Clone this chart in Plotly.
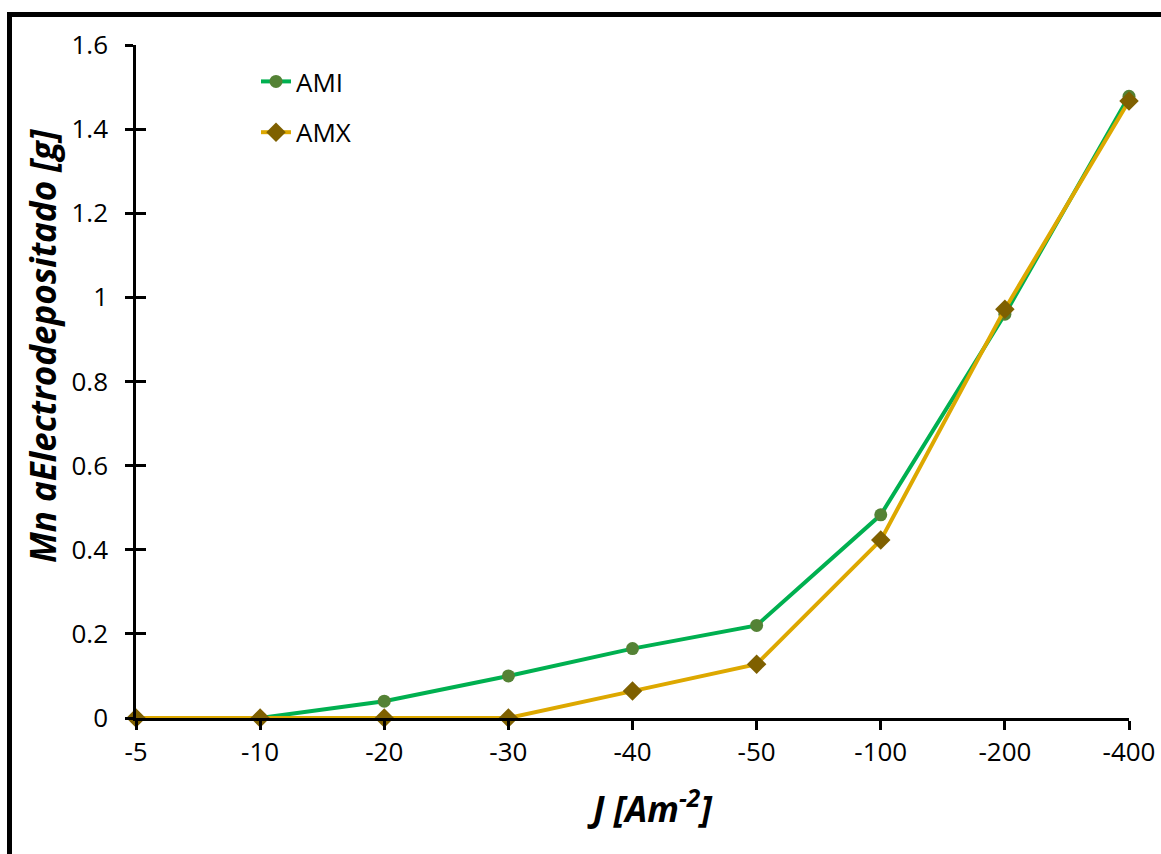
import plotly.graph_objects as go

# Current density categories (A/m^2) and deposited Mn mass (g)
current_density = ["-5", "-10", "-20", "-30", "-40", "-50", "-100", "-200", "-400"]
mass_ami = [0, 0, 0.04, 0.10, 0.165, 0.22, 0.483, 0.96, 1.478]
mass_amx = [0, 0, 0, 0, 0.064, 0.128, 0.423, 0.972, 1.467]
y_ticks = [0, 0.2, 0.4, 0.6, 0.8, 1.0, 1.2, 1.4, 1.6]

FONT = "Open Sans"
W, H = 1161, 854
ML, MR, MT, MB = 136, 32, 45, 136
PW, PH = W - ML - MR, H - MT - MB

fig = go.Figure()

fig.add_trace(go.Scatter(
    x=current_density, y=mass_ami, name="AMI", mode="lines+markers",
    line=dict(color="#00B050", width=4),
    marker=dict(symbol="circle", size=13, color="#548235"),
    cliponaxis=False, legendgroup="ami",
))
fig.add_trace(go.Scatter(
    x=current_density, y=mass_amx, name="AMX", mode="lines+markers",
    line=dict(color="#DDA800", width=4),
    marker=dict(symbol="diamond", size=15, color="#7F6000"),
    cliponaxis=False, legendgroup="amx",
))
# empty trace so the inner tick axis is rendered
fig.add_trace(go.Scatter(x=[], y=[], yaxis="y2", showlegend=False, hoverinfo="skip"))

tick_font = dict(family=FONT, size=26, color="black")
title_font = dict(family=FONT, size=35, color="black")

fig.update_layout(
    width=W, height=H,
    margin=dict(l=ML, r=MR, t=MT, b=MB),
    paper_bgcolor="white", plot_bgcolor="white",
    showlegend=True,
    legend=dict(
        x=(256 - ML) / PW, y=(718 - 58) / PH, xanchor="left", yanchor="top",
        font=dict(family=FONT, size=26, color="black"),
        bgcolor="rgba(0,0,0,0)", tracegroupgap=14, itemwidth=30,
    ),
    xaxis=dict(
        type="category", categoryorder="array", categoryarray=current_density,
        range=[0, len(current_density) - 1], automargin=False,
        showline=True, linecolor="black", linewidth=2.5,
        ticks="outside", ticklen=9, tickwidth=2.5, tickcolor="black",
        showgrid=False, zeroline=False, tickfont=tick_font,
    ),
    yaxis=dict(
        range=[0, 1.6], tickvals=y_ticks, automargin=False,
        showline=True, linecolor="black", linewidth=2.5,
        ticks="outside", ticklen=8, tickwidth=2.5, tickcolor="black",
        showgrid=False, zeroline=False, tickfont=tick_font,
        ticklabelstandoff=12,
    ),
    yaxis2=dict(
        overlaying="y", side="left", range=[0, 1.6], tickvals=y_ticks,
        ticks="inside", ticklen=10, tickwidth=2.5, tickcolor="black",
        showticklabels=False, showline=False, showgrid=False, zeroline=False,
        automargin=False,
    ),
)

# axis titles
fig.add_annotation(
    text="<b><i>J [Am<sup>-2</sup>]</i></b>",
    xref="paper", yref="paper", x=(650 - ML) / PW, y=(718 - 806) / PH,
    xanchor="center", yanchor="middle", showarrow=False, font=title_font,
)
fig.add_annotation(
    text="<b><i>Mn aElectrodepositado [g]</i></b>", textangle=-90,
    xref="paper", yref="paper", x=(42 - ML) / PW, y=(718 - 346) / PH,
    xanchor="center", yanchor="middle", showarrow=False, font=title_font,
)

# chart frame
fig.add_shape(
    type="rect", xref="paper", yref="paper",
    x0=(9.5 - ML) / PW, x1=1.2, y0=-0.4, y1=(718 - 14.5) / PH,
    line=dict(color="black", width=5), fillcolor="rgba(0,0,0,0)", layer="below",
)

fig.write_html("out.html")
